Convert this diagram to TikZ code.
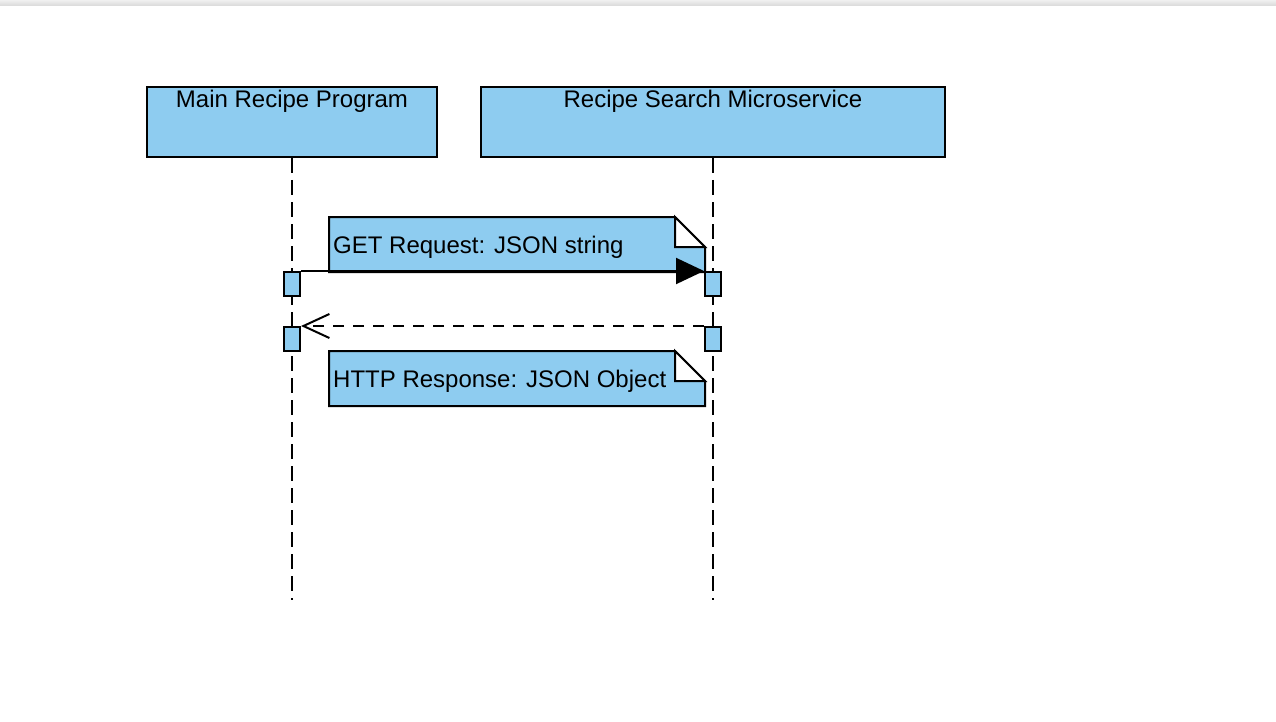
\documentclass[tikz,border=0pt]{standalone}
\usepackage{fontspec}
\setmainfont{Liberation Sans}
\usetikzlibrary{arrows.meta}
\definecolor{umlblue}{RGB}{142,204,240}
\tikzset{
  participant/.style={draw=black, fill=umlblue, line width=2pt, rectangle, inner sep=0pt, minimum height=70pt},
  actbox/.style={draw=black, fill=umlblue, line width=2pt, rectangle, inner sep=0pt, minimum width=16pt, minimum height=24pt},
  lifeline/.style={line width=2pt, dash pattern=on 15pt off 7pt},
  notebox/.style={draw=black, fill=umlblue, line width=2pt, line join=miter},
  label/.style={font=\fontsize{24}{28}\selectfont, inner sep=0pt},
  msg/.style={line width=2pt, -{Triangle[length=28pt,width=26pt]}},
  reply/.style={line width=2pt, dash pattern=on 11pt off 9pt, -{Straight Barb[length=26pt,width=24pt]}}
}
\begin{document}
\begin{tikzpicture}[x=1pt,y=-1pt]
\useasboundingbox (0,0) rectangle (1276,722);
\shade[top color=gray!12, bottom color=gray!30] (0,0) rectangle (1276,6);
% participants
\node[participant, minimum width=290pt] (main) at (292,122) {};
\node[participant, minimum width=464pt] (svc) at (713,122) {};
\node[label, anchor=base] (mainlbl) at (292,108) {Main Recipe Program};
\node[label, anchor=base] (svclbl) at (713,108) {Recipe Search Microservice};
% lifeline ends
\coordinate (mainend) at (292,600);
\coordinate (svcend) at (713,600);
\draw[lifeline] (main.south) -- (mainend);
\draw[lifeline] (svc.south) -- (svcend);
% notes
\draw[notebox] (329,217) -- (675,217) -- (705,247) -- (705,272) -- (329,272) -- cycle;
\fill[white] (675,217) -- (705,247) -- (675,247) -- cycle;
\draw[line width=2pt] (675,217) -- (705,247) -- (675,247) -- cycle;
\node[label, anchor=base west] (getlbl) at (333,253) {GET Request: JSON string};
\draw[notebox] (329,351) -- (675,351) -- (705,381) -- (705,406) -- (329,406) -- cycle;
\fill[white] (675,351) -- (705,381) -- (675,381) -- cycle;
\draw[line width=2pt] (675,351) -- (705,381) -- (675,381) -- cycle;
\node[label, anchor=base west] (httplbl) at (333,387) {HTTP Response: JSON Object};
% activations
\node[actbox] (aL1) at (292,284) {};
\node[actbox] (aR1) at (713,284) {};
\node[actbox] (aL2) at (292,339) {};
\node[actbox] (aR2) at (713,339) {};
% messages
\draw[msg] (aL1.north east) -- (aR1.north west);
\draw[reply] (aR2.north west) -- (aL2.north east);
\end{tikzpicture}
\end{document}
